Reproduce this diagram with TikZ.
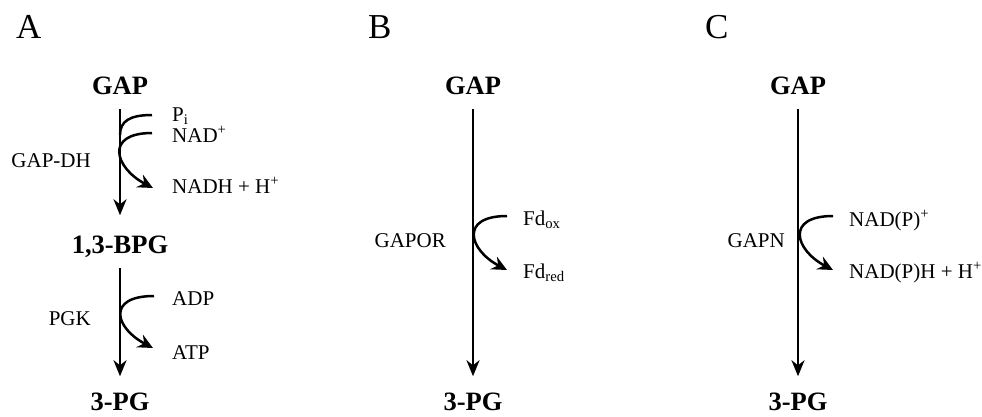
\documentclass[tikz,border=0pt]{standalone}
\usepackage{fontspec}
\setmainfont{Liberation Serif}
\usetikzlibrary{arrows.meta}

\begin{document}
\begin{tikzpicture}[x=1pt,y=-1pt,
		panel/.style={anchor=base west,inner sep=0pt,font=\fontsize{35}{40}\selectfont},
		metab/.style={anchor=base,inner sep=0pt,font=\fontsize{26.5}{30}\selectfont\bfseries},
		enz/.style={anchor=base east,inner sep=0pt,font=\fontsize{21}{25}\selectfont},
		cof/.style={anchor=base west,inner sep=0pt,font=\fontsize{21}{25}\selectfont},
		reac/.style={line width=2.5pt,-{Stealth[length=16pt,width=13pt,inset=5pt]}},
		side/.style={line width=2.5pt},
		sidearr/.style={side,-{Stealth[length=15pt,width=14pt,inset=5pt]}}]
		\useasboundingbox (0,0) rectangle (982,416);
		
		% panel letters
		\node[panel] (la) at (16,38) {A};
		\node[panel] (lb) at (368,38) {B};
		\node[panel] (lc) at (705,38) {C};
		
		% A: phosphorylating GAP-DH and PGK
		\node[metab] (gapA) at (120,94) {GAP};
		\node[metab] (bpgA) at (120,253) {1,3-BPG};
		\node[metab] (pgA) at (120,410) {3-PG};
		\node[enz] (gapdh) at (91,167) {GAP-DH};
		\node[enz] (pgk) at (91,325) {PGK};
		\node[cof] (pi) at (172,121) {P\textsubscript{i}};
		\node[cof] (nad) at (172,142) {NAD\textsuperscript{+}};
		\node[cof] (nadh) at (172,193) {NADH + H\textsuperscript{+}};
		\node[cof] (adp) at (172,305) {ADP};
		\node[cof] (atp) at (172,359) {ATP};
		
		\draw[reac, shorten <=15pt, shorten >=20pt] (gapA) -- (bpgA);
		\draw[reac, shorten <=11pt, shorten >=16pt] (bpgA) -- (pgA);
		
		\coordinate (piIn) at (152,115);
		\coordinate (piJoin) at (120,135);
		\coordinate (nadIn) at (152,133);
		\coordinate (nadhOut) at (153,188);
		\coordinate (adpIn) at (154,296);
		\coordinate (atpOut) at (153,348);
		\draw[side] (piIn) .. controls +(-22,0) and +(0,-14) .. (piJoin);
		\draw[sidearr] (nadIn) .. controls +(-48,0) and +(-38,-20) .. (nadhOut);
		\draw[sidearr] (adpIn) .. controls +(-48,0) and +(-38,-20) .. (atpOut);
		
		% B: GAPOR
		\node[metab] (gapB) at (473,94) {GAP};
		\node[metab] (pgB) at (473,410) {3-PG};
		\node[enz] (gapor) at (446,247) {GAPOR};
		\node[cof] (fdox) at (523,225) {Fd\textsubscript{ox}};
		\node[cof] (fdred) at (523,278) {Fd\textsubscript{red}};
		
		\draw[reac, shorten <=15pt, shorten >=16pt] (gapB) -- (pgB);
		\coordinate (fdIn) at (507,216);
		\coordinate (fdOut) at (507,270);
		\draw[sidearr] (fdIn) .. controls +(-48,0) and +(-38,-20) .. (fdOut);
		
		% C: GAPN
		\node[metab] (gapC) at (798,94) {GAP};
		\node[metab] (pgC) at (798,410) {3-PG};
		\node[enz] (gapn) at (785,247) {GAPN};
		\node[cof] (nadp) at (849,226) {NAD(P)\textsuperscript{+}};
		\node[cof] (nadph) at (849,278) {NAD(P)H + H\textsuperscript{+}};
		
		\draw[reac, shorten <=15pt, shorten >=16pt] (gapC) -- (pgC);
		\coordinate (nadpIn) at (833,216);
		\coordinate (nadpOut) at (833,270);
		\draw[sidearr] (nadpIn) .. controls +(-48,0) and +(-38,-20) .. (nadpOut);
\end{tikzpicture}
\end{document}
